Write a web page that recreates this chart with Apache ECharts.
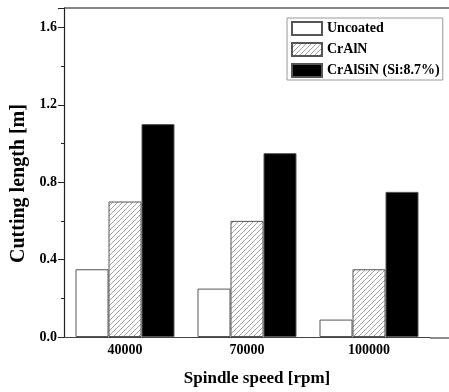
<!DOCTYPE html>
<html><head><meta charset="utf-8">
<script src="https://cdn.jsdelivr.net/npm/echarts@6/dist/echarts.min.js"></script>
<style>html,body{margin:0;padding:0;background:#fff}#c{width:449px;height:392px}</style>
</head><body><div id="c"></div>
<script>
const categories = ['40000', '70000', '100000'];
const seriesNames = ['Uncoated', 'CrAlN', 'CrAlSiN (Si:8.7%)'];
const uncoated = [0.35, 0.25, 0.09];
const crAlN = [0.70, 0.60, 0.35];
const crAlSiN = [1.10, 0.95, 0.75];
const yTicks = [0.0, 0.4, 0.8, 1.2, 1.6];

const FONT = '"Liberation Serif", "Times New Roman", serif';

function hatch() {
  const s = 5;
  const c = document.createElement('canvas');
  c.width = s; c.height = s;
  const g = c.getContext('2d');
  g.fillStyle = '#fff'; g.fillRect(0, 0, s, s);
  g.strokeStyle = '#8a8a8a'; g.lineWidth = 0.8;
  g.beginPath();
  g.moveTo(-1, s + 1); g.lineTo(s + 1, -1);
  g.moveTo(-1, 1); g.lineTo(1, -1);
  g.moveTo(s - 1, s + 1); g.lineTo(s + 1, s - 1);
  g.stroke();
  return c;
}

const chart = echarts.init(document.getElementById('c'), null, {renderer: 'canvas'});
const border = {borderColor: '#555', borderWidth: 1};
chart.setOption({
  animation: false,
  backgroundColor: '#fff',
  textStyle: {fontFamily: FONT},
  grid: {left: 64, top: 8, right: 19, bottom: 54},
  legend: {
    orient: 'vertical', left: 287, top: 18,
    itemWidth: 30, itemHeight: 13, itemGap: 6,
    padding: [3, 3, 2, 4],
    borderColor: '#999', borderWidth: 1,
    textStyle: {fontFamily: FONT, fontWeight: 'bold', fontSize: 14, color: '#000'},
    data: seriesNames.map(n => ({name: n, icon: 'rect'}))
  },
  xAxis: {
    type: 'category', data: categories,
    axisLine: {lineStyle: {color: '#444', width: 1.2}},
    axisTick: {show: false},
    axisLabel: {fontFamily: FONT, fontWeight: 'bold', fontSize: 14, color: '#000', margin: 6},
    name: 'Spindle speed [rpm]', nameLocation: 'middle', nameGap: 33,
    nameTextStyle: {fontFamily: FONT, fontWeight: 'bold', fontSize: 17, color: '#000', padding: [0, 0, 0, 20]}
  },
  yAxis: {
    type: 'value', min: 0, max: 1.7, interval: 0.4,
    axisLine: {show: true, lineStyle: {color: '#222', width: 1.2}},
    axisTick: {show: true, inside: false, length: 6, lineStyle: {color: '#222'}},
    minorTick: {show: true, splitNumber: 2, length: 3, lineStyle: {color: '#222'}},
    splitLine: {show: false},
    axisLabel: {
      fontFamily: FONT, fontWeight: 'bold', fontSize: 14, color: '#000', margin: 7,
      showMaxLabel: false,
      formatter: v => yTicks.some(t => Math.abs(t - v) < 1e-6) ? v.toFixed(1) : ''
    },
    name: 'Cutting length [m]', nameLocation: 'middle', nameGap: 29,
    nameTextStyle: {fontFamily: FONT, fontWeight: 'bold', fontSize: 20, color: '#000', padding: [0, 22, 0, 0]}
  },
  graphic: [
    {type: 'line', shape: {x1: 64, y1: 8, x2: 449, y2: 8}, style: {stroke: '#111', lineWidth: 1.2}, silent: true},
    {type: 'line', shape: {x1: 430, y1: 338, x2: 449, y2: 338}, style: {stroke: '#444', lineWidth: 1.2}, silent: true}
  ],
  series: [
    {name: seriesNames[0], type: 'bar', data: uncoated, barWidth: 33, barGap: '0%',
     itemStyle: Object.assign({color: '#fff'}, border)},
    {name: seriesNames[1], type: 'bar', data: crAlN, barWidth: 33, barGap: '0%',
     itemStyle: Object.assign({color: {image: hatch(), repeat: 'repeat'}}, border)},
    {name: seriesNames[2], type: 'bar', data: crAlSiN, barWidth: 33, barGap: '0%',
     itemStyle: Object.assign({color: '#000'}, border)}
  ]
});
</script></body></html>
